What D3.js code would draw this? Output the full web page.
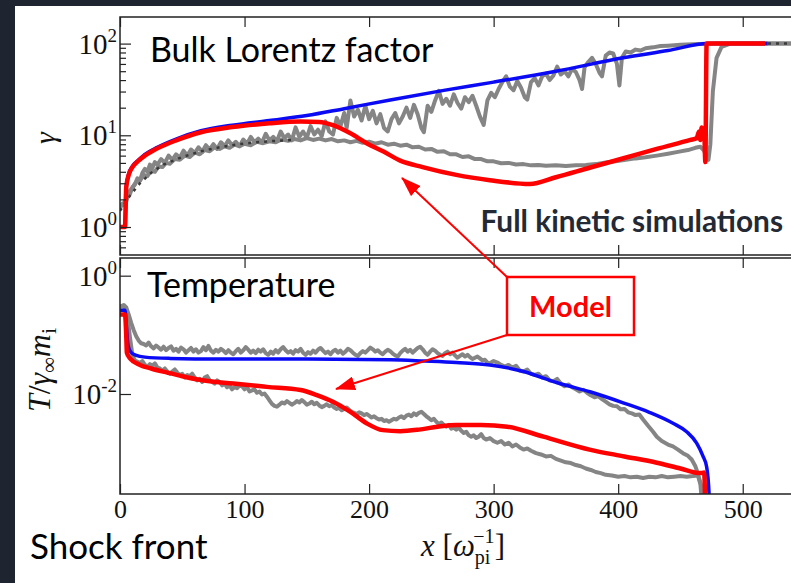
<!DOCTYPE html>
<html>
<head>
<meta charset="utf-8">
<script src="https://cdn.jsdelivr.net/npm/d3@7"></script>
<style>
  html, body { margin: 0; padding: 0; background: #1f2530; overflow: hidden; }
  svg { display: block; }
  .serif { font-family: "Liberation Serif", "DejaVu Serif", serif; fill: #111; }
  .note { font-family: Lato, "Open Sans", sans-serif; }
  .tick line { stroke: #222; stroke-width: 1.2; }
</style>
</head>
<body>
<svg id="chart" width="791" height="583"></svg>
<script>
// ---- data (x in units of 1/omega_pi) ----
const xTicks = [0, 100, 200, 300, 400, 500];
const gammaTicks = [1, 10, 100];
const gammaTickExp = ["0", "1", "2"];
const gammaMinor = [0.6, 0.7, 0.8, 0.9, 2, 3, 4, 5, 6, 7, 8, 9, 20, 30, 40, 50, 60, 70, 80, 90];
const tempTicks = [1, 0.01];
const tempTickExp = ["0", "-2"];

// upper panel: bulk Lorentz factor gamma
const gammaModelBlue = [[0,1.0],[4,1.0],[5,2.8],[7,3.8],[10,4.6],[15,5.4],[20,6.2],[30,7.4],[45,9.1],[65,11.2],[90,12.9],[120,14.5],[150,16.4],[180,19.5],[217,24.3],[260,30.9],[300,38],[350,50],[404,70],[440,84],[472,100],[520,100]];
const gammaModelRed = [[0,1.0],[4,1.0],[5,2.7],[7,3.7],[10,4.5],[15,5.3],[20,6.0],[30,7.2],[45,8.8],[65,10.8],[90,12.3],[120,13.5],[145,14.1],[160,14.0],[171,12.9],[185,10.5],[198,8.2],[212,6.6],[225,5.3],[243,4.5],[270,3.7],[297,3.24],[329,2.95],[350,3.49],[377,4.43],[405,5.65],[431,7.1],[458,8.9],[463,9.3],[465,11.0],[466,8.9],[467,12.2],[468,9.6],[469,11.2],[470,5.1],[471,100],[518,100]];
const gammaSimA = [[0,1.6],[2,1.8],[4,1.7],[6,2.1],[8,2.3],[10,2.7],[12,2.9],[14,3.4],[16,3.2],[18,3.9],[20,4.3],[22,4.0],[24,4.8],[26,4.4],[28,5.1],[30,4.8],[33,5.5],[36,5.0],[39,6.0],[42,5.4],[45,6.2],[48,5.7],[51,6.8],[54,6.0],[57,7.0],[60,6.4],[63,7.4],[66,6.6],[69,7.8],[72,7.0],[75,8.0],[78,7.1],[81,8.4],[84,7.6],[87,8.8],[90,7.8],[93,8.5],[96,7.6],[99,9.0],[102,8.1],[105,9.6],[108,8.4],[111,9.2],[114,8.3],[117,10.4],[120,8.8],[123,9.6],[126,8.6],[129,11.0],[132,9.3],[135,10.2],[138,8.8],[141,12.2],[144,9.6],[147,11.0],[150,9.4],[153,12.6],[156,10.2],[159,11.5],[162,9.8],[165,14.2],[168,11.0],[171,10.2],[174,15.5],[177,12.5],[180,17.5],[182,12.0],[185,24.0],[188,16.0],[191,19.0],[194,14.5],[197,21.0],[200,15.0],[203,18.5],[206,13.5],[209,17.0],[212,12.0],[215,11.0],[218,15.0],[221,17.5],[224,13.5],[227,16.0],[230,20.0],[233,15.5],[236,21.5],[239,17.0],[242,12.0],[244,10.8],[247,21.0],[250,18.0],[253,24.0],[256,30.5],[259,22.0],[262,25.0],[265,21.0],[268,28.0],[271,22.5],[274,19.5],[277,26.0],[280,23.0],[283,27.0],[286,21.0],[289,16.0],[292,13.0],[295,24.0],[298,29.0],[301,26.0],[304,32.0],[307,38.0],[310,44.0],[313,34.0],[316,31.0],[319,39.0],[322,33.0],[325,26.0],[327,24.5],[330,38.0],[333,42.0],[336,35.0],[339,44.0],[342,47.0],[345,40.0],[348,45.0],[351,56.0],[354,46.0],[357,50.0],[360,44.0],[363,53.0],[366,49.0],[369,40.0],[371,32.0],[373,55.0],[376,63.0],[379,70.0],[382,60.0],[385,48.0],[387,44.0],[390,74.0],[393,80.0],[396,78.0],[399,60.0],[401,35.0],[403,70.0],[406,82.0],[410,80.0],[414,86.0],[418,84.0],[422,89.0],[428,91.0],[434,94.0],[440,95.0],[450,97.0],[465,99.0],[480,100],[550,100]];
const gammaSimB = [[0,1.7],[3,1.8],[5,2.0],[7,2.4],[10,2.7],[13,3.1],[16,3.2],[19,3.7],[22,3.6],[25,4.1],[28,4.0],[31,4.6],[34,4.5],[37,5.0],[40,4.9],[44,5.5],[48,5.4],[52,6.0],[56,5.8],[60,6.5],[64,6.2],[68,6.9],[72,6.7],[76,7.4],[80,7.1],[84,7.6],[88,7.3],[92,7.9],[96,7.6],[100,8.1],[105,7.8],[110,8.5],[115,8.2],[120,8.6],[125,8.4],[130,9.0],[135,8.7],[140,9.1],[145,8.8],[150,9.3],[155,8.9],[160,9.2],[165,8.8],[170,9.1],[175,8.6],[180,8.8],[185,8.4],[190,8.7],[195,8.3],[200,8.5],[205,8.1],[210,8.4],[215,7.9],[220,8.1],[225,7.7],[230,7.9],[235,7.4],[240,7.5],[245,7.0],[250,7.1],[255,6.6],[260,6.7],[265,6.2],[270,6.2],[275,5.8],[280,5.9],[285,5.5],[290,5.5],[295,5.2],[300,5.2],[306,4.95],[312,5.0],[318,4.8],[324,4.85],[330,4.7],[336,4.75],[342,4.65],[350,4.7],[358,4.62],[366,4.7],[374,4.75],[382,4.85],[390,5.05],[398,5.2],[406,5.4],[414,5.6],[422,5.75],[431,6.0],[440,6.3],[448,6.6],[456,6.9],[462,7.3],[466,7.5],[469,6.8],[471,5.8],[472.5,5.4],[474,8],[476,30],[479,70],[483,92],[490,100],[550,100]];
const gammaSimDark = [[0,1.5],[8,2.2],[16,3.0],[25,3.9],[35,4.8],[50,5.8],[65,6.7],[80,7.4],[95,8.0],[110,8.4],[125,8.7],[140,8.9],[141,null],[500,null],[501,100],[550,100]];

// lower panel: temperature T / (gamma_inf m_i)
const tempModelBlue = [[0,0.26],[4,0.26],[5,0.15],[6.5,0.065],[9,0.05],[13,0.045],[20,0.042],[40,0.040],[80,0.039],[150,0.039],[217,0.038],[245,0.036],[270,0.034],[297,0.031],[324,0.024],[351,0.0155],[378,0.0108],[404,0.0071],[425,0.0049],[444,0.0032],[455,0.0023],[463,0.00148],[468,0.0009],[471,0.00059],[473,0.0002],[473.5,0.0001]];
const tempModelRed = [[0,0.22],[4,0.22],[5,0.1],[5.5,0.05],[8,0.04],[16,0.031],[25,0.027],[38,0.023],[50,0.02],[64,0.0174],[91,0.015],[118,0.0132],[145,0.0117],[158,0.0096],[171,0.0074],[185,0.005],[198,0.0032],[211,0.00245],[225,0.00235],[240,0.0025],[255,0.0028],[270,0.003],[290,0.003],[311,0.0028],[340,0.0019],[377,0.00115],[405,0.00088],[431,0.00069],[450,0.00055],[466,0.00046],[469,0.00047],[470,0.0001]];
const tempSimA = [[0,0.30],[3,0.32],[5,0.29],[7,0.22],[9,0.16],[11,0.12],[13,0.095],[15,0.08],[17,0.072],[19,0.07],[21,0.066],[23,0.074],[25,0.064],[27,0.059],[29,0.066],[31,0.061],[33,0.056],[35,0.063],[37,0.055],[39,0.06],[41,0.064],[43,0.054],[45,0.058],[47,0.052],[49,0.061],[51,0.057],[53,0.05],[55,0.055],[57,0.06],[59,0.052],[61,0.057],[63,0.05],[65,0.053],[67,0.062],[69,0.055],[71,0.065],[73,0.054],[75,0.05],[77,0.056],[79,0.052],[81,0.058],[83,0.054],[85,0.049],[87,0.055],[89,0.05],[91,0.047],[93,0.053],[95,0.058],[97,0.05],[99,0.055],[101,0.062],[103,0.056],[105,0.05],[107,0.054],[109,0.049],[111,0.056],[113,0.052],[115,0.057],[117,0.049],[119,0.046],[121,0.052],[123,0.048],[125,0.055],[127,0.05],[129,0.057],[131,0.062],[133,0.055],[135,0.05],[137,0.053],[139,0.048],[141,0.055],[143,0.052],[145,0.058],[147,0.05],[149,0.046],[151,0.051],[153,0.048],[155,0.054],[157,0.05],[159,0.056],[161,0.06],[163,0.054],[165,0.049],[167,0.052],[169,0.047],[171,0.053],[173,0.056],[175,0.05],[177,0.054],[179,0.048],[181,0.052],[183,0.058],[185,0.055],[187,0.05],[189,0.046],[191,0.044],[193,0.049],[195,0.053],[197,0.05],[199,0.055],[201,0.061],[203,0.057],[205,0.052],[207,0.055],[209,0.05],[211,0.047],[213,0.052],[215,0.056],[217,0.053],[219,0.048],[221,0.045],[223,0.043],[225,0.049],[227,0.054],[229,0.058],[231,0.052],[233,0.056],[235,0.05],[237,0.055],[239,0.06],[241,0.063],[243,0.057],[245,0.05],[247,0.046],[249,0.052],[251,0.057],[253,0.054],[255,0.049],[257,0.046],[259,0.044],[261,0.049],[263,0.052],[265,0.047],[267,0.05],[269,0.045],[271,0.041],[273,0.044],[275,0.047],[277,0.043],[279,0.046],[281,0.042],[283,0.039],[285,0.041],[287,0.043],[289,0.04],[291,0.037],[293,0.038],[295,0.034],[297,0.033],[300,0.036],[303,0.034],[306,0.031],[309,0.029],[312,0.031],[315,0.028],[318,0.03],[321,0.025],[324,0.024],[327,0.026],[330,0.022],[333,0.021],[336,0.022],[339,0.019],[342,0.02],[345,0.017],[348,0.0165],[351,0.018],[354,0.015],[357,0.0135],[360,0.0145],[363,0.013],[366,0.012],[369,0.011],[372,0.0118],[375,0.0105],[378,0.0095],[381,0.0088],[384,0.0092],[387,0.0082],[390,0.0074],[393,0.0067],[396,0.0063],[399,0.0062],[402,0.0055],[405,0.0056],[408,0.0049],[411,0.0047],[414,0.0044],[417,0.0045],[420,0.0037],[424,0.0029],[428,0.0023],[431,0.0019],[435,0.0016],[440,0.0014],[444,0.0013],[448,0.00115],[452,0.001],[456,0.0009],[459,0.00078],[462,0.0006],[464,0.00045],[466,0.00032],[468,0.0002],[470,0.0001]];
const tempSimB = [[0,0.30],[3,0.30],[5,0.26],[6,0.2],[8,0.09],[10,0.045],[12,0.037],[14,0.035],[16,0.033],[18,0.036],[20,0.031],[22,0.029],[24,0.032],[26,0.03],[28,0.033],[30,0.028],[32,0.027],[34,0.025],[36,0.027],[38,0.024],[40,0.022],[42,0.024],[44,0.026],[46,0.023],[48,0.021],[50,0.022],[52,0.019],[54,0.021],[56,0.02],[58,0.022],[60,0.019],[62,0.017],[64,0.018],[66,0.016],[68,0.019],[70,0.02],[72,0.017],[74,0.016],[76,0.015],[78,0.017],[80,0.016],[82,0.014],[84,0.015],[86,0.013],[88,0.014],[90,0.012],[92,0.013],[94,0.0125],[96,0.014],[98,0.0135],[100,0.012],[102,0.013],[104,0.011],[106,0.0115],[108,0.012],[110,0.0105],[112,0.011],[114,0.0098],[116,0.0102],[118,0.009],[120,0.0078],[122,0.0068],[124,0.0063],[126,0.0061],[128,0.0066],[130,0.0072],[132,0.0069],[134,0.0076],[136,0.0071],[138,0.0066],[140,0.007],[142,0.0076],[144,0.0072],[146,0.0079],[148,0.0073],[150,0.0066],[152,0.0069],[154,0.0074],[156,0.0067],[158,0.0071],[160,0.0064],[162,0.006],[164,0.0063],[166,0.0067],[168,0.0062],[170,0.0065],[172,0.0059],[174,0.0056],[176,0.0058],[178,0.0053],[180,0.0056],[182,0.0059],[184,0.0054],[186,0.005],[188,0.0048],[190,0.0046],[192,0.0049],[194,0.0047],[196,0.0044],[198,0.0046],[200,0.0043],[202,0.004],[204,0.0042],[206,0.0039],[208,0.0037],[210,0.0038],[212,0.0035],[214,0.0036],[216,0.0034],[218,0.0036],[220,0.0038],[222,0.0037],[224,0.004],[226,0.0042],[228,0.0039],[230,0.0043],[232,0.0045],[234,0.0042],[236,0.0047],[238,0.0044],[240,0.0048],[242,0.005],[244,0.0046],[246,0.0042],[248,0.0039],[250,0.0036],[252,0.0038],[254,0.0034],[256,0.0031],[258,0.0033],[260,0.003],[262,0.0028],[264,0.003],[266,0.0026],[268,0.0027],[270,0.0025],[272,0.0027],[274,0.0024],[276,0.0022],[278,0.0023],[280,0.002],[282,0.0019],[284,0.002],[286,0.0018],[288,0.0019],[290,0.0021],[292,0.0018],[294,0.0017],[297,0.0018],[300,0.0016],[303,0.0015],[306,0.0016],[309,0.0014],[312,0.0015],[315,0.0013],[318,0.0014],[321,0.00125],[324,0.00115],[327,0.0012],[330,0.0011],[334,0.001],[338,0.00095],[342,0.00088],[346,0.0009],[350,0.0008],[354,0.00075],[358,0.0007],[362,0.00068],[366,0.00063],[370,0.0006],[374,0.00055],[378,0.00052],[382,0.00048],[386,0.00046],[390,0.00043],[395,0.00042],[400,0.0004],[405,0.00041],[410,0.00039],[415,0.0004],[420,0.00038],[425,0.0004],[430,0.00039],[435,0.00041],[440,0.00039],[445,0.0004],[450,0.00041],[455,0.0004],[460,0.00041],[464,0.00042],[466,0.0003],[468,0.0001]];

// ---- layout ----
const svg = d3.select("#chart");
const W = 791, H = 583;
const left = 120, right = 805;
const upper = {top: 17, bottom: 255};
const lower = {top: 258, bottom: 494};

svg.append("rect").attr("width", W).attr("height", H).attr("fill", "#1f2530");
svg.append("rect").attr("x", 15).attr("y", 6).attr("width", W - 15).attr("height", H - 6).attr("fill", "#fff");

const x = d3.scaleLinear().domain([0, 550]).range([left, right]);
const yG = d3.scaleLog().domain([0.495, 195]).range([upper.bottom, upper.top]);
const yT = d3.scaleLog().domain([2.04e-4, 1.99]).range([lower.bottom, lower.top]);

const defs = svg.append("defs");
[["clipUpper", upper], ["clipLower", lower]].forEach(([id, p]) => {
  defs.append("clipPath").attr("id", id).append("rect")
    .attr("x", left).attr("y", p.top).attr("width", right - left).attr("height", p.bottom - p.top);
});
defs.append("marker").attr("id", "arrow")
  .attr("markerUnits", "userSpaceOnUse")
  .attr("markerWidth", 20).attr("markerHeight", 14)
  .attr("refX", 19).attr("refY", 7).attr("orient", "auto")
  .append("path").attr("d", "M0,0 L20,7 L0,14 Z").attr("fill", "#f00");

function drawLine(g, data, y, color, width, opts) {
  opts = opts || {};
  const line = d3.line()
    .defined(d => d[1] != null)
    .curve(opts.smooth ? d3.curveMonotoneX : d3.curveLinear)
    .x(d => x(d[0]))
    .y(d => y(d[1]));
  g.append("path").datum(data)
    .attr("d", line)
    .attr("fill", "none")
    .attr("stroke", color)
    .attr("stroke-width", width)
    .attr("stroke-linejoin", "round")
    .attr("stroke-dasharray", opts.dash || null);
}

// upper panel curves
const gU = svg.append("g").attr("clip-path", "url(#clipUpper)");
drawLine(gU, gammaSimB, yG, "#858585", 4);
drawLine(gU, gammaSimA, yG, "#858585", 4);
drawLine(gU, gammaSimDark, yG, "#3a3a3a", 2.5, {dash: "3,5"});
drawLine(gU, gammaModelBlue, yG, "#0a0af5", 3.5, {smooth: true});
drawLine(gU, gammaModelRed, yG, "#ff0000", 4.5, {smooth: true});

// lower panel curves
const gL = svg.append("g").attr("clip-path", "url(#clipLower)");
drawLine(gL, tempSimA, yT, "#858585", 4);
drawLine(gL, tempSimB, yT, "#858585", 4);
drawLine(gL, tempModelBlue, yT, "#0a0af5", 3.5, {smooth: true});
drawLine(gL, tempModelRed, yT, "#ff0000", 4.5, {smooth: true});

// frames
[upper, lower].forEach(p => {
  svg.append("rect")
    .attr("x", left).attr("y", p.top)
    .attr("width", right - left + 20).attr("height", p.bottom - p.top)
    .attr("fill", "none").attr("stroke", "#222").attr("stroke-width", 1.5);
});

// x axes, ticks pointing inward
function xAxis(axisFn, yPos, labels) {
  const g = svg.append("g").attr("transform", `translate(0,${yPos})`)
    .call(axisFn(x).tickValues(xTicks).tickSize(-10).tickPadding(6)
      .tickFormat(labels ? d3.format("d") : ""));
  g.select(".domain").remove();
  g.selectAll("text").attr("class", "serif").attr("font-size", 26).attr("fill", "#111");
  return g;
}
xAxis(d3.axisTop, upper.top, false);
xAxis(d3.axisBottom, upper.bottom, false);
xAxis(d3.axisTop, lower.top, false);
xAxis(d3.axisBottom, lower.bottom, true);

// y axes (log), major + minor ticks, labels as 10^n
function yAxis(y, ticks, exps, minor) {
  const g = svg.append("g").attr("transform", `translate(${left},0)`);
  g.call(d3.axisLeft(y).tickValues(ticks).tickSize(-11).tickFormat(""));
  if (minor) {
    g.append("g").call(d3.axisLeft(y).tickValues(minor).tickSize(-6).tickFormat(""));
  }
  g.selectAll(".domain").remove();
  ticks.forEach((v, i) => {
    const t = svg.append("text").attr("class", "serif")
      .attr("x", 117).attr("y", y(v) + 10)
      .attr("text-anchor", "end");
    t.append("tspan").attr("font-size", 29).text("10");
    t.append("tspan").attr("font-size", 19).attr("dy", -12).text(exps[i]);
  });
}
yAxis(yG, gammaTicks, gammaTickExp, gammaMinor);
yAxis(yT, tempTicks, tempTickExp, null);

// axis titles
svg.append("text").attr("class", "serif")
  .attr("transform", "translate(55,138) rotate(-90)")
  .attr("text-anchor", "middle")
  .attr("font-size", 30).attr("font-style", "italic")
  .text("γ");

const tl = svg.append("text").attr("class", "serif")
  .attr("transform", "translate(50,370) rotate(-90)")
  .attr("text-anchor", "middle")
  .attr("font-size", 32);
tl.append("tspan").attr("font-style", "italic").text("T");
tl.append("tspan").text("/");
tl.append("tspan").attr("font-style", "italic").text("γ");
tl.append("tspan").attr("font-size", 22).attr("dy", 6).text("∞");
tl.append("tspan").attr("font-style", "italic").attr("dy", -6).text("m");
tl.append("tspan").attr("font-size", 22).attr("dy", 6).text("i");

const xl = svg.append("text").attr("class", "serif")
  .attr("x", 463).attr("y", 556)
  .attr("text-anchor", "middle")
  .attr("font-size", 31);
xl.append("tspan").attr("font-style", "italic").text("x");
xl.append("tspan").text(" [");
xl.append("tspan").attr("font-style", "italic").text("ω");
xl.append("tspan").attr("font-size", 20).attr("dy", 8).text("pi");
xl.append("tspan").attr("font-size", 20).attr("dy", -21).attr("dx", -17).text("−1");
xl.append("tspan").attr("dy", 13).text("]");

// annotations
svg.append("text").attr("class", "note").attr("x", 150).attr("y", 62)
  .attr("font-size", 34).attr("fill", "#000").text("Bulk Lorentz factor");
svg.append("text").attr("class", "note").attr("x", 147).attr("y", 297)
  .attr("font-size", 34).attr("fill", "#000").text("Temperature");
svg.append("text").attr("class", "note").attr("x", 30).attr("y", 559)
  .attr("font-size", 35).attr("fill", "#000").text("Shock front");
svg.append("text").attr("class", "note").attr("x", 783).attr("y", 232)
  .attr("text-anchor", "end")
  .attr("font-size", 29.8).attr("font-weight", "bold").attr("fill", "#232a36")
  .text("Full kinetic simulations");

// "Model" callout with arrows
const box = {x: 507, y: 277, w: 127, h: 58};
svg.append("line").attr("x1", box.x).attr("y1", box.y).attr("x2", 402).attr("y2", 178)
  .attr("stroke", "#f00").attr("stroke-width", 2).attr("marker-end", "url(#arrow)");
svg.append("line").attr("x1", box.x).attr("y1", box.y + box.h).attr("x2", 336).attr("y2", 389)
  .attr("stroke", "#f00").attr("stroke-width", 2).attr("marker-end", "url(#arrow)");
svg.append("rect").attr("x", box.x).attr("y", box.y).attr("width", box.w).attr("height", box.h)
  .attr("fill", "#fff").attr("stroke", "#f00").attr("stroke-width", 2.5);
svg.append("text").attr("class", "note")
  .attr("x", box.x + box.w / 2).attr("y", 317)
  .attr("text-anchor", "middle")
  .attr("font-size", 29).attr("font-weight", "bold").attr("fill", "#f00")
  .text("Model");
</script>
</body>
</html>
